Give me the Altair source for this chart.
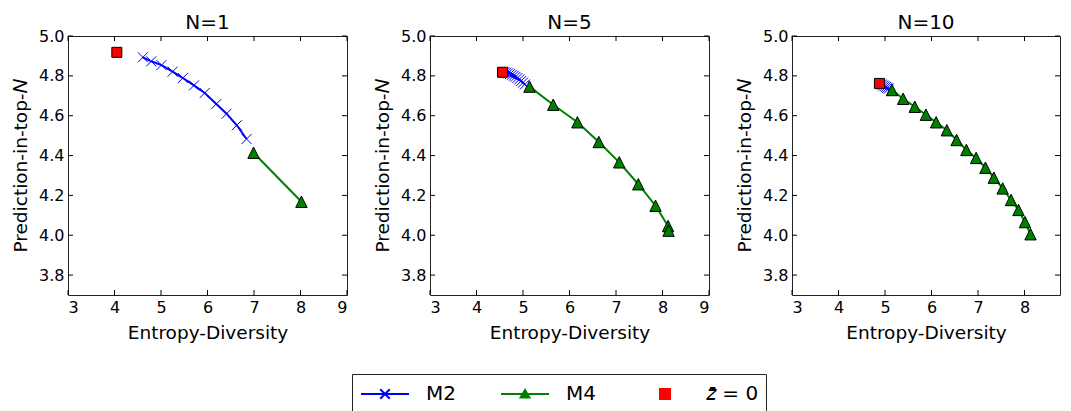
import altair as alt
import pandas as pd

FONT = "DejaVu Sans"

panel_titles = ["N=1", "N=5", "N=10"]
series_keys = ["M2", "M4", "z0"]
series_labels = ["M2", "M4", "𝑧̄ = 0"]
series_colors = ["blue", "green", "red"]

x_ticks = [3, 4, 5, 6, 7, 8, 9]
x_ticks_last = [3, 4, 5, 6, 7, 8]
y_ticks = [3.8, 4.0, 4.2, 4.4, 4.6, 4.8, 5.0]

# N=1
n1_m2_x = [4.61, 4.79, 5.01, 5.25, 5.47, 5.71, 5.94, 6.19, 6.41, 6.63, 6.84]
n1_m2_y = [4.893, 4.873, 4.854, 4.821, 4.789, 4.752, 4.714, 4.659, 4.610, 4.552, 4.483]
n1_m4_x = [6.99, 8.02]
n1_m4_y = [4.414, 4.168]
n1_z0_x = [4.05]
n1_z0_y = [4.918]

# N=5
n5_m2_x = [4.60, 4.64, 4.68, 4.72, 4.76, 4.80, 4.84, 4.88, 4.92, 4.96, 5.00, 5.04]
n5_m2_y = [4.818, 4.816, 4.813, 4.809, 4.805, 4.800, 4.795, 4.789, 4.782, 4.774, 4.766, 4.757]
n5_m4_x = [5.14, 5.65, 6.17, 6.63, 7.07, 7.48, 7.85, 8.12, 8.13]
n5_m4_y = [4.746, 4.655, 4.567, 4.468, 4.366, 4.256, 4.148, 4.046, 4.023]
n5_z0_x = [4.56]
n5_z0_y = [4.818]

# N=10
n10_m2_x = [4.90, 4.93, 4.96, 4.99, 5.02, 5.05, 5.08]
n10_m2_y = [4.760, 4.756, 4.752, 4.748, 4.744, 4.740, 4.736]
n10_m4_x = [5.15, 5.39, 5.64, 5.88, 6.10, 6.33, 6.54, 6.75, 6.96, 7.16, 7.34, 7.53, 7.71, 7.87, 8.01, 8.13]
n10_m4_y = [4.729, 4.685, 4.645, 4.605, 4.567, 4.527, 4.478, 4.428, 4.388, 4.339, 4.289, 4.235, 4.177, 4.127, 4.066, 4.005]
n10_z0_x = [4.88]
n10_z0_y = [4.762]

H = 259
W = 279
W3 = 268
XPATH = "M-1,-1L1,1M-1,1L1,-1"
TRI = "M0,-1L1,1L-1,1Z"
legend_paths = [
    "M-2,0H2M-0.4,-0.4L0.4,0.4M-0.4,0.4L0.4,-0.4",
    "M-2,0H2M0,-0.33L0.37,0.3L-0.37,0.3Z",
    "M-0.42,-0.42H0.42V0.42H-0.42Z",
]


def frame(m2x, m2y, m4x, m4y, zx, zy):
    rows = []
    for i, (a, b) in enumerate(zip(m2x, m2y)):
        rows.append({"x": a, "y": b, "series": "M2", "i": i})
    for i, (a, b) in enumerate(zip(m4x, m4y)):
        rows.append({"x": a, "y": b, "series": "M4", "i": i})
    for i, (a, b) in enumerate(zip(zx, zy)):
        rows.append({"x": a, "y": b, "series": "z0", "i": i})
    return pd.DataFrame(rows)


label_expr = " : ".join(
    f"datum.label == '{k}' ? '{v}'" for k, v in zip(series_keys, series_labels)
) + " : datum.label"


def panel(df, title, xticks, width, xmax, with_legend=False):
    xs = alt.Scale(domain=[3, xmax], nice=False, zero=False)
    ys = alt.Scale(domain=[3.7, 5.0], nice=False, zero=False)
    xax = alt.Axis(values=xticks, format="d", title="Entropy-Diversity")
    yax = alt.Axis(values=y_ticks, format=".1f", title="Prediction-in-top-𝑁")
    X = alt.X("x:Q", scale=xs, axis=xax)
    Y = alt.Y("y:Q", scale=ys, axis=yax)
    base = alt.Chart(df)
    m2 = base.transform_filter("datum.series == 'M2'")
    m4 = base.transform_filter("datum.series == 'M4'")
    z0 = base.transform_filter("datum.series == 'z0'")
    layers = [
        m2.mark_line(color="blue", strokeWidth=2).encode(X, Y, order="i:Q"),
        m2.mark_point(shape=XPATH, size=100, filled=False, stroke="blue", strokeWidth=1, opacity=1).encode(X, Y),
        m4.mark_line(color="green", strokeWidth=2).encode(X, Y, order="i:Q"),
        m4.mark_point(shape=TRI, size=130, filled=True, fill="green", stroke="black", strokeWidth=1, opacity=1).encode(X, Y),
        z0.mark_square(size=100, fill="red", stroke="black", strokeWidth=1, opacity=1).encode(X, Y),
    ]
    xt = pd.DataFrame({"x": xticks})
    yt = pd.DataFrame({"y": y_ticks})
    layers += [
        alt.Chart(xt).mark_rule(color="black", strokeWidth=1).encode(X, y=alt.value(H), y2=alt.value(H - 5)),
        alt.Chart(xt).mark_rule(color="black", strokeWidth=1).encode(X, y=alt.value(0), y2=alt.value(5)),
        alt.Chart(yt).mark_rule(color="black", strokeWidth=1).encode(Y, x=alt.value(0), x2=alt.value(5)),
        alt.Chart(yt).mark_rule(color="black", strokeWidth=1).encode(Y, x=alt.value(width), x2=alt.value(width - 5)),
    ]
    if with_legend:
        leg = alt.Legend(
            title=None, orient="none", legendX=284, legendY=338, direction="horizontal",
            symbolSize=576, symbolStrokeWidth=2, symbolOffset=13, labelOffset=28,
            columnPadding=18, padding=7, strokeColor="#222", fillColor="white",
            gridAlign="all", labelFont=FONT, labelFontSize=20, labelColor="black",
            labelLimit=200, labelExpr=label_expr,
        )
        layers.append(
            base.transform_filter("false").mark_point(filled=True, opacity=1).encode(
                X, Y,
                fill=alt.Fill("series:N", scale=alt.Scale(domain=series_keys, range=series_colors), legend=leg),
                stroke=alt.Stroke("series:N", scale=alt.Scale(domain=series_keys, range=series_colors), legend=leg),
                shape=alt.Shape("series:N", scale=alt.Scale(domain=series_keys, range=legend_paths), legend=leg),
            )
        )
    return alt.layer(*layers).properties(width=width, height=H, title=title)


d1 = frame(n1_m2_x, n1_m2_y, n1_m4_x, n1_m4_y, n1_z0_x, n1_z0_y)
d5 = frame(n5_m2_x, n5_m2_y, n5_m4_x, n5_m4_y, n5_z0_x, n5_z0_y)
d10 = frame(n10_m2_x, n10_m2_y, n10_m4_x, n10_m4_y, n10_z0_x, n10_z0_y)

p1 = panel(d1, panel_titles[0], x_ticks, W, 9, with_legend=True)
p2 = panel(d5, panel_titles[1], x_ticks, W, 9)
p3 = panel(d10, panel_titles[2], x_ticks_last, W3, 3 + 6 * W3 / W)

chart = (
    alt.hconcat(p1, p2, p3, spacing=83, bounds="flush")
    .properties(padding={"left": 3, "top": 4, "right": 0, "bottom": 0})
    .configure_view(stroke="#222", strokeWidth=1)
    .configure_axis(
        grid=False, domain=False, ticks=False, labelFont=FONT, titleFont=FONT,
        labelFontSize=16, titleFontSize=18.5, titleFontWeight="normal",
        labelColor="black", titleColor="black", labelPadding=4,
    )
    .configure_axisX(titlePadding=8)
    .configure_axisY(titlePadding=8)
    .configure_title(font=FONT, fontSize=20, fontWeight="normal", offset=-5, color="black")
)

chart.save("out.html", embed_options={"renderer": "svg", "actions": False})
